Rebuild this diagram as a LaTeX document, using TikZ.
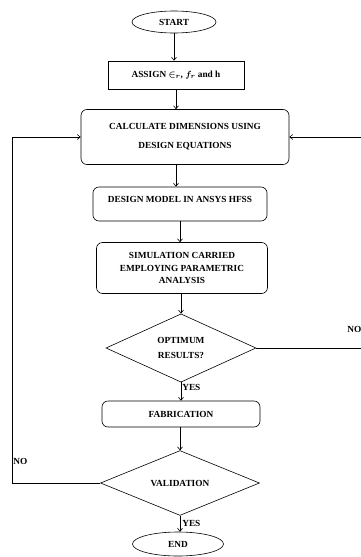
\documentclass[tikz,border=0pt]{standalone}
\usepackage{amsmath}
\usepackage{fontspec}
\setmainfont{Liberation Serif}
\usetikzlibrary{arrows.meta,positioning,shapes.geometric}

\begin{document}
\begin{tikzpicture}[x=1pt,y=-1pt,line width=0.6pt,
  font=\fontsize{9.3}{11}\selectfont\bfseries,
  >={Straight Barb[length=3pt,width=5pt]},
  sq/.style={draw,align=center,inner sep=0pt},
  r/.style={sq,rounded corners=6pt},
  dm/.style={draw,diamond,align=center,inner sep=0pt},
  el/.style={draw,ellipse,inner sep=0pt}]
\useasboundingbox (0,0) rectangle (361,557);
\node[el,minimum width=84pt,minimum height=22pt] (start) at (174,22) {START};
\node[sq,minimum width=136pt,minimum height=28pt] (asg) at (176,75)
   {ASSIGN $\boldsymbol{\in_r}$, $\boldsymbol{f_r}$ and h};
\node[r,minimum width=208pt,minimum height=55pt] (calc) at (185,137)
   {CALCULATE DIMENSIONS USING\\[8pt]DESIGN EQUATIONS};
\node[r,minimum width=174pt,minimum height=34pt] (hfss) at (180,204)
   {DESIGN MODEL IN ANSYS HFSS\\[-1pt]\mbox{}};
\node[r,minimum width=171pt,minimum height=51pt] (sim) at (182,268)
   {SIMULATION CARRIED\\[1.5pt]EMPLOYING PARAMETRIC\\[1.5pt]ANALYSIS};
\node[dm,minimum width=150pt,minimum height=62pt] (opt) at (181,348)
   {OPTIMUM\\[4pt]RESULTS?};
\node[r,minimum width=158pt,minimum height=26pt] (fab) at (181,414) {FABRICATION};
\node[dm,minimum width=159pt,minimum height=46pt] (val) at (180,483) {VALIDATION};
\node[el,minimum width=91pt,minimum height=24pt] (end) at (178,544) {END};
\coordinate (l) at (12,0);
\coordinate (rt) at (368,0);
% main line
\draw[->] (start.south) -- (start.south |- asg.north);
\draw[->] (asg.south) -- (asg.south |- calc.north);
\draw[->] (asg.south |- calc.south) -- (asg.south |- hfss.north);
\draw[->] (hfss.south) -- (hfss.south |- sim.north);
\draw[->] (opt.north |- sim.south) -- (opt.north);
\draw[->] (opt.south) -- (opt.south |- fab.north)
   node[pos=0.05,anchor=north west,inner sep=1pt] (yes1) {YES};
\draw[->] (val.north |- fab.south) -- (val.north);
\draw[->] (val.south) -- (val.south |- end.north)
   node[midway,right,inner sep=2pt] (yes2) {YES};
% feedback loops
\draw[->] (val.west) -- (val.west -| l) -- (l |- calc.west) -- (calc.west);
\node[right,inner sep=1pt] (no2) at (12,461) {NO};
\draw[->] (opt.east) -- (opt.east -| rt) -- (rt |- calc.east) -- (calc.east);
\node[right,inner sep=0pt] (no1) at (347,329) {NO};
\end{tikzpicture}
\end{document}
